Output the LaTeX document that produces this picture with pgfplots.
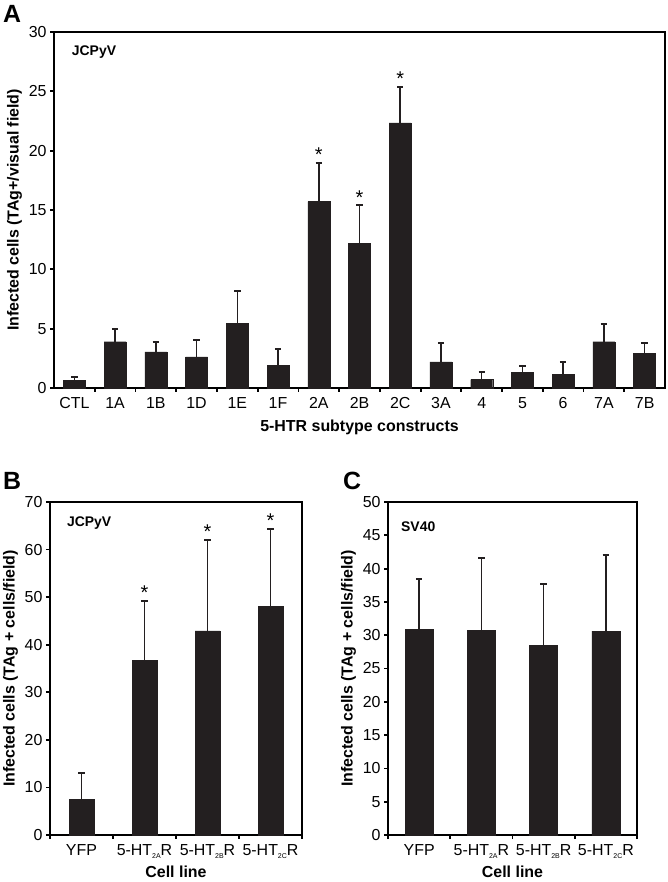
\documentclass[border=0pt]{standalone}
\usepackage{pgfplots}
\pgfplotsset{compat=1.18}
\usepackage{fontspec}
\setmainfont{Liberation Sans}

\definecolor{barblk}{HTML}{231F20}
\newcommand{\sub}[1]{\raisebox{-0.35ex}{\fontsize{7}{7}\selectfont #1}}

\pgfplotsset{
  panel/.style={
    scale only axis, anchor=south west, clip=false,
    axis line style={line width=2.4bp, black},
    tick align=outside, xtick pos=bottom, ytick pos=left,
    major tick length=4bp, minor tick length=4bp,
    every tick/.style={line width=1.8bp, black},
    tick label style={font=\fontsize{16}{18}\selectfont},
    xticklabel style={yshift=-2bp},
    /pgf/number format/assume math mode=true,
    label style={font=\bfseries\fontsize{16}{18}\selectfont},
    ymin=0, xmin=-0.5,
  },
  barerr/.style={ybar, bar width=#1, fill=barblk, draw=barblk, line width=0.4bp,
    error bars/.cd, y dir=plus, y explicit,
    error bar style={line width=1.5bp, draw=barblk},
    error mark options={rotate=90, line width=2bp, mark size=3.2bp, draw=barblk}},
  stars/.style={draw=none, mark=none, nodes near coords={*},
    every node near coord/.append style={font=\fontsize{20}{20}\selectfont, inner sep=1bp, black}},
}

\pgfplotstableread{
x y e
0 0.65 0.28
1 3.9 1.05
2 3.05 0.85
3 2.63 1.41
4 5.45 2.69
5 1.92 1.36
6 15.7 3.26
7 12.18 3.22
8 22.35 3.05
9 2.2 1.6
10 0.7 0.63
11 1.33 0.51
12 1.16 1.04
13 3.9 1.5
14 2.9 0.9
}\dataA

\pgfplotstableread{
x y e
0 7.5 5.6
1 36.7 12.5
2 42.9 19.2
3 48.1 16.3
}\dataB

\pgfplotstableread{
x y e
0 30.85 7.65
1 30.75 10.9
2 28.5 9.25
3 30.6 11.4
}\dataC

\begin{document}
\begin{tikzpicture}
\useasboundingbox (0,0) rectangle (668bp,882bp);

% panel A
\begin{axis}[panel, at={(54bp,494bp)}, width=611bp, height=356bp,
    xmax=14.5, ymax=30, ytick={0,5,...,30},
    xtick={0,...,14}, major x tick style={draw=none},
    minor xtick={0.5,1.5,...,13.5},
    xticklabels={CTL,1A,1B,1D,1E,1F,2A,2B,2C,3A,4,5,6,7A,7B},
    xlabel={5-HTR subtype constructs}, xlabel style={yshift=-4bp},
    ylabel={Infected cells (TAg+/visual field)}]
\addplot[barerr=0.54] table[x=x, y=y, y error=e] {\dataA};
\addplot[stars] coordinates {(6,18.96) (7,15.4) (8,25.4)};
\node[anchor=west, inner sep=0, font=\bfseries\fontsize{14}{16}\selectfont] at (rel axis cs:0.029,0.944) {JCPyV};
\end{axis}

% panel B
\begin{axis}[panel, at={(50bp,47bp)}, width=252bp, height=333bp,
    xmax=3.5, ymax=70, ytick={0,10,...,70},
    xtick={0,...,3}, major x tick style={draw=none},
    minor xtick={-0.5,0.5,...,3.5},
    xticklabels={YFP, 5-HT\sub{2A}R, 5-HT\sub{2B}R, 5-HT\sub{2C}R},
    xlabel={Cell line}, xlabel style={yshift=-1bp},
    ylabel={Infected cells (TAg + cells/field)}]
\addplot[barerr=0.39] table[x=x, y=y, y error=e] {\dataB};
\addplot[stars] coordinates {(1,49.2) (2,62.1) (3,64.4)};
\node[anchor=west, inner sep=0, font=\bfseries\fontsize{14}{16}\selectfont] at (rel axis cs:0.067,0.937) {JCPyV};
\end{axis}

% panel C
\begin{axis}[panel, at={(388bp,47bp)}, width=249bp, height=333bp,
    xmax=3.5, ymax=50, ytick={0,5,...,50},
    xtick={0,...,3}, major x tick style={draw=none},
    minor xtick={-0.5,0.5,...,3.5},
    xticklabels={YFP, 5-HT\sub{2A}R, 5-HT\sub{2B}R, 5-HT\sub{2C}R},
    xlabel={Cell line}, xlabel style={yshift=-1bp},
    ylabel={Infected cells (TAg + cells/field)}]
\addplot[barerr=0.45] table[x=x, y=y, y error=e] {\dataC};
\node[anchor=west, inner sep=0, font=\bfseries\fontsize{14}{16}\selectfont] at (rel axis cs:0.052,0.925) {SV40};
\end{axis}

\node[anchor=south west, inner sep=0, font=\bfseries\fontsize{25}{25}\selectfont] at (3bp,859bp) {A};
\node[anchor=south west, inner sep=0, font=\bfseries\fontsize{25}{25}\selectfont] at (3bp,392bp) {B};
\node[anchor=south west, inner sep=0, font=\bfseries\fontsize{25}{25}\selectfont] at (343bp,392bp) {C};
\end{tikzpicture}
\end{document}
